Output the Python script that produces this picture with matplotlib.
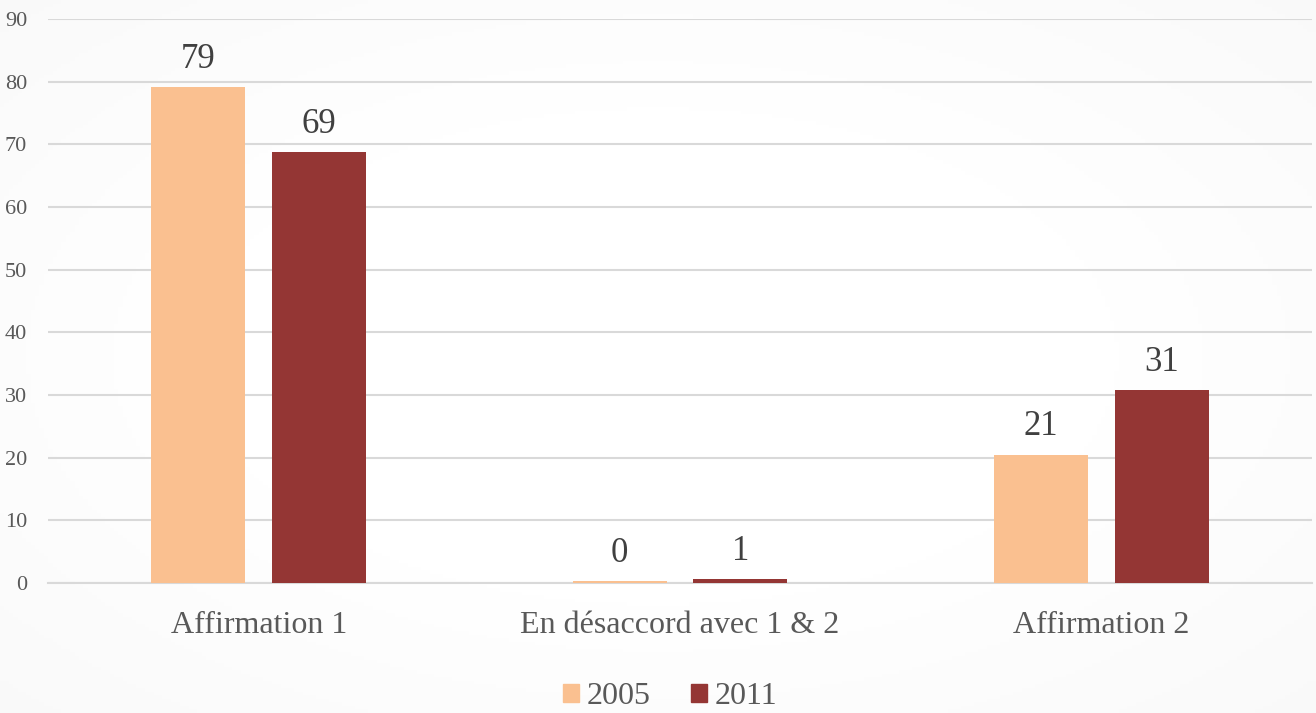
import matplotlib
matplotlib.use("Agg")
import matplotlib.pyplot as plt
import numpy as np
from matplotlib.patches import Patch

categories = ["Affirmation 1", "En désaccord avec 1 & 2", "Affirmation 2"]
series_names = ["2005", "2011"]
values_2005 = [79.1, 0.3, 20.5]
values_2011 = [68.7, 0.6, 30.8]
labels_2005 = ["79", "0", "21"]
labels_2011 = ["69", "1", "31"]
yticks = [0, 10, 20, 30, 40, 50, 60, 70, 80, 90]

c2005 = "#FAC090"
c2011 = "#943634"
txt = "#595959"

plt.rcParams['font.family'] = ['Liberation Serif', 'DejaVu Serif']

W, H = 1316, 713
fig = plt.figure(figsize=(W / 100, H / 100), dpi=100)

# subtle radial background
bg = fig.add_axes([0, 0, 1, 1], zorder=-10)
yy, xx = np.mgrid[0:1:200j, 0:1:300j]
r = np.sqrt(((xx - 0.5) / 0.5) ** 2 + ((yy - 0.5) / 0.5) ** 2)
shade = 1.0 - 0.03 * np.clip(r - 0.7, 0, None)
bg.imshow(np.dstack([shade] * 3), aspect='auto', extent=[0, 1, 0, 1])
bg.axis('off')

ax = fig.add_axes([48 / W, (H - 583) / H, (1312 - 48) / W, (583 - 19) / H])
ax.patch.set_alpha(0)

x = np.arange(len(categories))
bw = 0.223
off = (bw + 0.064) / 2
b1 = ax.bar(x - off, values_2005, bw, color=c2005, zorder=3)
b2 = ax.bar(x + off, values_2011, bw, color=c2011, zorder=3)

for bars, labs in ((b1, labels_2005), (b2, labels_2011)):
    for b, l in zip(bars, labs):
        ax.annotate(l, (b.get_x() + b.get_width() / 2, b.get_height()),
                    xytext=(0, 8), textcoords='offset points',
                    ha='center', va='bottom', fontsize=25, color="#404040")

ax.set_xlim(-0.5, 2.5)
ax.set_ylim(0, 90)
ax.set_yticks(yticks)
ax.set_yticklabels([str(t) for t in yticks], fontsize=16, color=txt)
ax.set_xticks(x)
ax.set_xticklabels(categories, fontsize=23, color=txt)
ax.tick_params(axis='both', length=0)
ax.tick_params(axis='y', pad=15)
ax.tick_params(axis='x', pad=20)
ax.yaxis.grid(True, color="#D9D9D9", linewidth=1.5, zorder=0)
for s in ['top', 'right', 'left']:
    ax.spines[s].set_visible(False)
ax.spines['bottom'].set_color("#D9D9D9")
ax.spines['bottom'].set_linewidth(1.5)

handles = [Patch(color=c2005, label=series_names[0]),
           Patch(color=c2011, label=series_names[1])]
leg = fig.legend(handles=handles, loc='center', bbox_to_anchor=(670 / W, (H - 697) / H),
                 ncol=2, frameon=False, fontsize=23, handlelength=0.5, handleheight=0.5,
                 handletextpad=0.25, columnspacing=1.25)
for t in leg.get_texts():
    t.set_color(txt)

fig.savefig("out.png", dpi=100)
